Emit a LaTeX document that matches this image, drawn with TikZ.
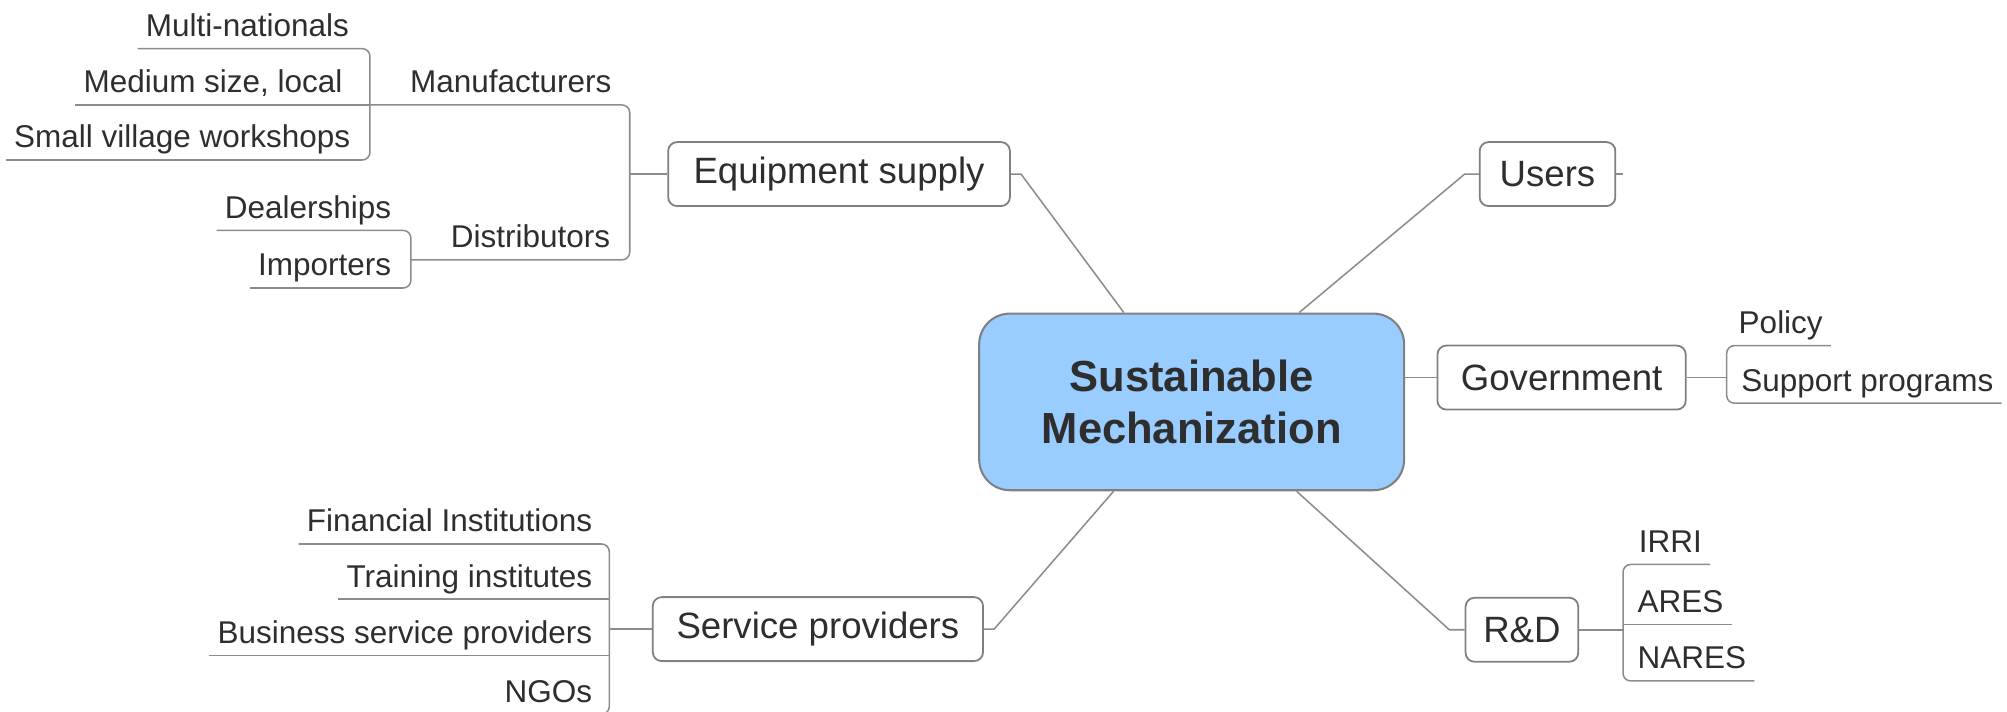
\documentclass[tikz,border=0pt]{standalone}
\usepackage{fontspec}
\setmainfont{Liberation Sans}
\usetikzlibrary{calc}

\definecolor{linegray}{HTML}{8C8C8C}
\definecolor{boxgray}{HTML}{808080}
\definecolor{txtgray}{HTML}{2E2E2E}
\definecolor{hubblue}{HTML}{99CCFF}

\tikzset{
  hub/.style={draw=boxgray, line width=0.8pt, fill=hubblue, rounded corners=12pt,
    minimum width=166pt, minimum height=69pt, align=center, text=txtgray,
    font=\fontsize{17}{20.5}\selectfont\bfseries},
  branch/.style={draw=boxgray, line width=0.7pt, fill=white, rounded corners=3.5pt,
    minimum height=25pt, inner xsep=6pt, text=txtgray,
    font=\fontsize{14.3}{17}\selectfont},
  leafl/.style={anchor=south east, inner xsep=3pt, inner ysep=4.5pt, text depth=0pt,
    text=txtgray, font=\fontsize{12.3}{14}\selectfont},
  leafr/.style={leafl, anchor=south west},
  link/.style={draw=linegray, line width=0.6pt},
  bracket/.style={link, rounded corners=3pt}
}

\begin{document}
\begin{tikzpicture}[x=0.5pt, y=-0.5pt]

% page size:
\useasboundingbox (0,0) rectangle (1568,556);

% centre and main branches:
\node[hub] (sm) at (931,314) {Sustainable\\Mechanization};
\node[branch, minimum width=133.5pt] (eq) at (655.5,136) {Equipment supply};
\node[branch, minimum width=53pt] (users) at (1209,136) {Users};
\node[branch, minimum width=97pt] (gov) at (1220,295) {Government};
\node[branch, minimum width=44pt] (rd) at (1189,492) {R\&D};
\node[branch, minimum width=129pt] (sp) at (639,491.5) {Service providers};

% leaves on the left:
\foreach \name/\txt/\x/\y in {mult/Multi-nationals/279/38, med/{Medium size, local}/274/82,
    small/Small village workshops/280/125, manu/Manufacturers/484/82,
    deal/Dealerships/312/180, imp/Importers/312/225, dist/Distributors/483/203,
    fin/Financial Institutions/469/425, train/Training institutes/469/468,
    bus/Business service providers/469/512, ngo/NGOs/469/558}
  \node[leafl] (\name) at (\x,\y) {\txt};

% leaves on the right:
\foreach \name/\txt/\x/\y in {pol/Policy/1352/270, sup/Support programs/1354/315,
    irri/IRRI/1274/441, ares/ARES/1273/488, nares/NARES/1273/532}
  \node[leafr] (\name) at (\x,\y) {\txt};

% bracket junctions:
\coordinate (mnb) at (289,82);
\coordinate (eqb) at (492,136);
\coordinate (dsb) at (321,203);
\coordinate (spb) at (476,491.5);
\coordinate (gvb) at (1349,295);
\coordinate (rdb) at (1268,492);
\coordinate (usend) at (1268,136);

% centre to branches:
\draw[link] ($(sm.north)+(-53,0)$) -- ($(eq.east)+(8,0)$) -- (eq.east);
\draw[link] ($(sm.north)+(84,0)$) -- ($(users.west)+(-11,0)$) -- (users.west);
\draw[link] (users.east) -- (usend);
\draw[link] (gov.west -| sm.east) -- (gov.west);
\draw[link] ($(sm.south)+(82,0)$) -- ($(rd.west)+(-12,0)$) -- (rd.west);
\draw[link] ($(sm.south)+(-61,0)$) -- ($(sp.east)+(8,0)$) -- (sp.east);

% equipment supply:
\draw[link] (eq.west) -- (eqb);
\draw[bracket] (mnb) -- (manu.south -| eqb) -- (dist.south -| eqb) -- (dsb);
\draw[bracket] (mult.south west) -- (mult.south -| mnb) -- (small.south -| mnb) -- (small.south west);
\draw[link] (med.south west) -- (mnb);
\draw[bracket] (deal.south west) -- (deal.south -| dsb) -- (imp.south -| dsb) -- (imp.south west);

% service providers:
\draw[link] (sp.west) -- (spb);
\draw[bracket] (fin.south west) -- (fin.south -| spb) -- (ngo.south -| spb) -- (ngo.south west);
\draw[link] (train.south west) -- (train.south -| spb);
\draw[link] (bus.south west) -- (bus.south -| spb);

% government:
\draw[link] (gov.east) -- (gvb);
\draw[bracket] (pol.south east) -- (pol.south -| gvb) -- (sup.south -| gvb) -- (sup.south east);

% R&D:
\draw[link] (rd.east) -- (rdb);
\draw[bracket] (irri.south east) -- (irri.south -| rdb) -- (nares.south -| rdb) -- (nares.south east);
\draw[link] (ares.south -| rdb) -- (ares.south east);

\end{tikzpicture}
\end{document}
